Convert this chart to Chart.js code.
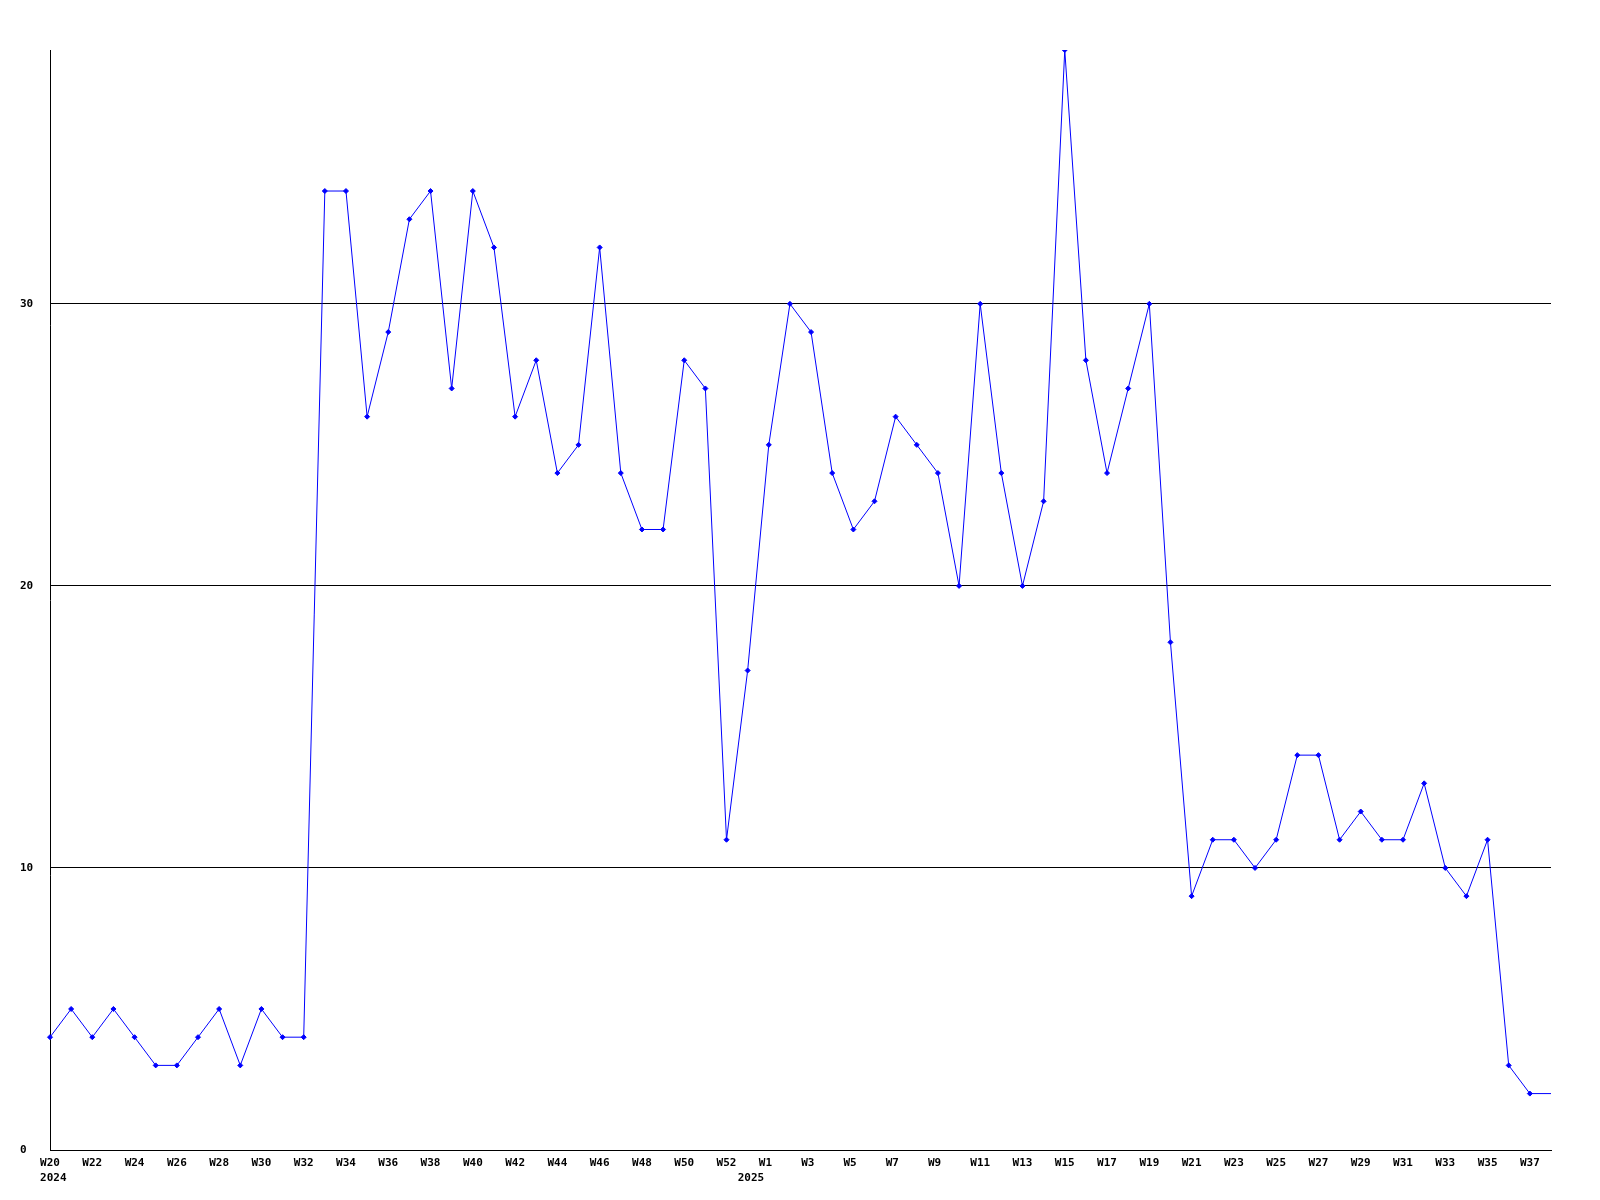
<!DOCTYPE html>
<html>
<head>
<meta charset="utf-8">
<script src="https://cdn.jsdelivr.net/npm/chart.js@4"></script>
<style>
  html, body { margin: 0; padding: 0; background: #fff; }
  #wrap { width: 1600px; height: 1200px; }
</style>
</head>
<body>
<div id="wrap"><canvas id="chart" width="1600" height="1200"></canvas></div>
<script>
// weeks W20 2024 .. W38 2025 (one extra week between W52 and W1)
const weeks2024 = ["W20","W21","W22","W23","W24","W25","W26","W27","W28","W29","W30","W31","W32",
  "W33","W34","W35","W36","W37","W38","W39","W40","W41","W42","W43","W44","W45","W46","W47",
  "W48","W49","W50","W51","W52","W53"];
const weeks2025 = ["W1","W2","W3","W4","W5","W6","W7","W8","W9","W10","W11","W12","W13","W14",
  "W15","W16","W17","W18","W19","W20","W21","W22","W23","W24","W25","W26","W27","W28","W29",
  "W30","W31","W32","W33","W34","W35","W36","W37","W38"];
const labels = weeks2024.concat(weeks2025);

// year captions: index of the week where each year label sits
const yearLabels = { 0: "2024", 33: "2025" };

const counts = [4,5,4,5,4,3,3,4,5,3,5,4,4,
  34,34,26,29,33,34,27,34,32,26,28,24,25,32,24,22,22,28,27,11,17,
  25,30,29,24,22,23,26,25,24,20,30,24,20,23,39,28,24,27,30,18,9,11,11,10,11,14,14,11,12,11,11,13,10,9,11,3,2,2];

const yTicks = [0, 10, 20, 30];
const yMax = 39;

const font = { family: "'DejaVu Sans Mono', monospace", size: 11, weight: "bold", lineHeight: 1.4 };

// labels in the original start at the same spot, so pad the short ones
const padLabel = s => s.length < 3 ? s + " " : s;

new Chart(document.getElementById("chart").getContext("2d"), {
  type: "line",
  data: {
    labels,
    datasets: [{
      data: counts,
      borderColor: "#0000ff",
      backgroundColor: "#0000ff",
      borderWidth: 1,
      pointStyle: "rectRot",
      pointRadius: ctx => ctx.dataIndex === counts.length - 1 ? 0 : 2.5,
      pointBorderWidth: 1,
      tension: 0
    }]
  },
  options: {
    responsive: false,
    animation: false,
    layout: { padding: { top: 50, right: 49, left: 20, bottom: 0 } },
    plugins: { legend: { display: false }, tooltip: { enabled: false } },
    scales: {
      x: {
        offset: false,
        grid: { display: false, drawTicks: false },
        border: { color: "#000", width: 1 },
        afterFit: s => { s.height = 50; },
        ticks: {
          autoSkip: false,
          maxRotation: 0,
          minRotation: 0,
          padding: 5,
          color: "#000",
          font,
          callback: (v, i) => {
            const wk = i % 2 === 0 ? padLabel(labels[i]) : "";
            if (yearLabels[i] !== undefined) {
              return [wk, " " + yearLabels[i]];
            }
            return wk;
          }
        }
      },
      y: {
        min: 0,
        max: yMax,
        afterFit: s => { s.width = 30; },
        afterBuildTicks: s => { s.ticks = yTicks.map(v => ({ value: v })); },
        grid: { color: "#000", lineWidth: 1, drawTicks: false },
        border: { color: "#000", width: 1 },
        ticks: {
          crossAlign: "far",
          color: "#000",
          font
        }
      }
    }
  }
});
</script>
</body>
</html>
